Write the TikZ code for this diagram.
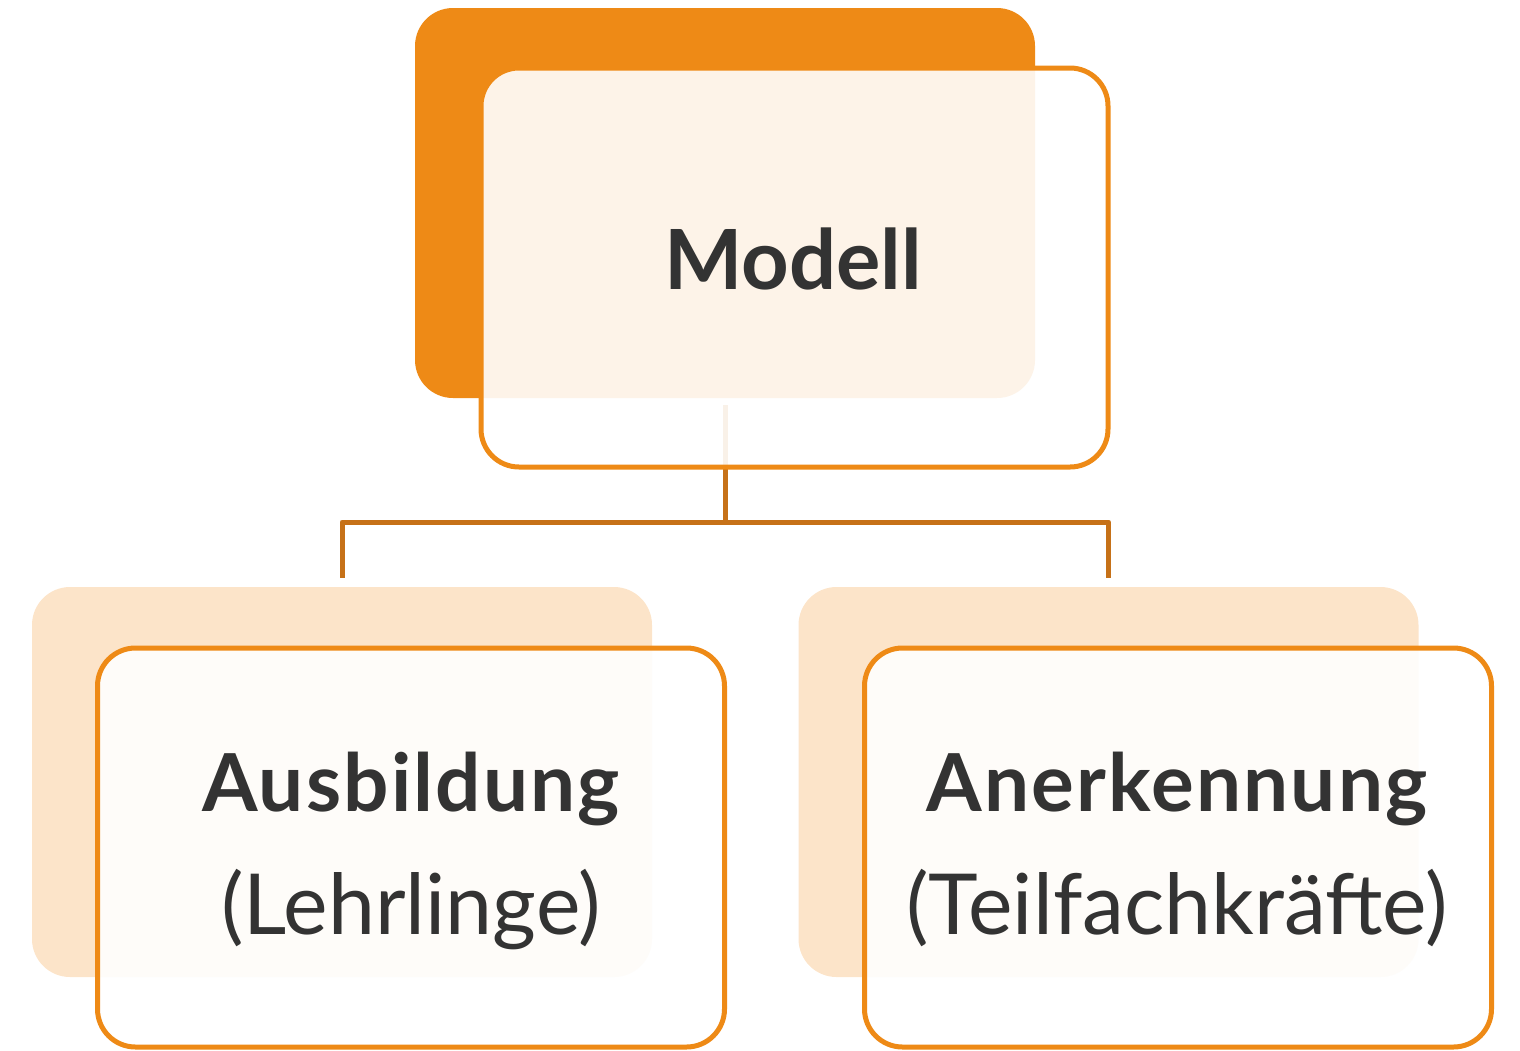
\documentclass[tikz,border=0pt]{standalone}
\usepackage{fontspec}
\setmainfont{Lato}
\begin{document}
\begin{tikzpicture}[x=1pt,y=-1pt,
  backdark/.style={rectangle, rounded corners=38pt, fill=orMain, draw=none, minimum width=620pt, minimum height=390pt, inner sep=0pt, outer sep=0pt},
  backlight/.style={rectangle, rounded corners=38pt, fill=orLight, draw=none, minimum width=620pt, minimum height=390pt, inner sep=0pt, outer sep=0pt},
  frontbox/.style={rectangle, rounded corners=38pt, draw=orMain, line width=5pt, fill=white, fill opacity=0.9, minimum width=627pt, minimum height=399pt, inner sep=0pt, outer sep=0pt},
  conn/.style={draw=orDark, line width=5pt, line join=round},
  titletxt/.style={anchor=base, text=txtgray, font=\fontsize{83}{88}\selectfont\bfseries, inner sep=0pt},
  boldtxt/.style={anchor=base, text=txtgray, font=\fontsize{80}{86}\selectfont\bfseries\addfontfeatures{LetterSpace=2.7}, inner sep=0pt},
  regtxt/.style={anchor=base, text=txtgray, font=\fontsize{84.2}{90}\selectfont, inner sep=0pt}]
\definecolor{orMain}{RGB}{238,138,22}
\definecolor{orLight}{RGB}{252,228,201}
\definecolor{orDark}{RGB}{198,113,24}
\definecolor{txtgray}{RGB}{51,51,51}
\useasboundingbox (0,0) rectangle (1520,1050);
% back boxes
\node[backdark]  (tb) at (725,203) {};
\node[backlight] (lb) at (342,782) {};
\node[backlight] (rb) at (1108.5,782) {};
% connectors
\coordinate (j) at (725,522);
\draw[conn, shorten <=7pt] (tb.south) -- (j);
\draw[conn, shorten >=9pt] (j) -| (lb.north);
\draw[conn, shorten >=9pt] (j) -| (rb.north);
% front boxes
\node[frontbox] (tf) at (794.5,267.5) {};
\node[frontbox] (lf) at (411,847.5) {};
\node[frontbox] (rf) at (1178,847.5) {};
% texts
\node[titletxt] (t1) at (793,289) {Modell};
\node[boldtxt] (l1) at (411,811) {Ausbildung};
\node[regtxt]  (l2) at (411,934) {(Lehrlinge)};
\node[boldtxt] (r1) at (1177,811) {Anerkennung};
\node[regtxt]  (r2) at (1177,934) {(Teilfachkräfte)};
\end{tikzpicture}
\end{document}
